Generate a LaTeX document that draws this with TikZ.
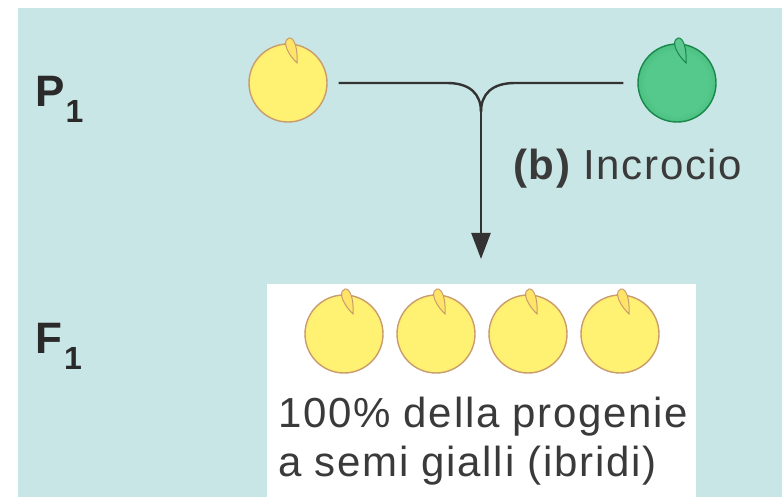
\documentclass[tikz,border=0pt]{standalone}
\usepackage{fontspec}
\setmainfont{Liberation Sans}
\usetikzlibrary{arrows.meta}

\definecolor{bgteal}{HTML}{C8E6E5}
\definecolor{inkgray}{HTML}{2A2A2A}
\definecolor{textgray}{HTML}{3A3A3A}
\definecolor{linegray}{HTML}{333333}
\definecolor{ycenter}{HTML}{FFF272}
\definecolor{ymid}{HTML}{F9DC6C}
\definecolor{yedge}{HTML}{E6B26A}
\definecolor{yborder}{HTML}{C99C6E}
\definecolor{ytip}{HTML}{FFE468}
\definecolor{gcenter}{HTML}{55C98B}
\definecolor{gedge}{HTML}{17924F}
\definecolor{gborder}{HTML}{17874A}
\definecolor{gtip}{HTML}{5CC890}

\pgfdeclareradialshading{yellowpea}{\pgfpoint{0bp}{0bp}}{%
  color(0bp)=(ycenter); color(22bp)=(ycenter); color(40bp)=(ymid); color(50bp)=(yedge)}
\pgfdeclareradialshading{greenpea}{\pgfpoint{0bp}{0bp}}{%
  color(0bp)=(gcenter); color(20bp)=(gcenter); color(50bp)=(gedge)}

\tikzset{
  pea/.style={circle, minimum size=78pt, inner sep=0pt, line width=1.4pt},
  yellowpeastyle/.style={pea, shading=yellowpea, draw=yborder},
  greenpeastyle/.style={pea, shading=greenpea, draw=gborder},
  gen/.style={anchor=base west, inner sep=0pt, text=inkgray,
    font=\fontsize{44}{44}\selectfont\bfseries},
  caption/.style={anchor=base west, inner sep=0pt, text=textgray,
    font=\fontsize{42}{42}\selectfont\addfontfeatures{LetterSpace=4}},
  conn/.style={draw=linegray, line width=2.4pt},
}

% small seed tip (hilum) on top of a pea, drawn around the pea centre
\newcommand{\seedtip}[3]{%
  \begin{scope}[shift={(#1.center)}]
    \draw[fill=#2, draw=#3, line width=1pt]
      (9,-20) .. controls (10,-35) and (6,-46) .. (1,-45)
              .. controls (-4,-44) and (-5,-34) .. cycle;
  \end{scope}}

\newcommand{\sub}[1]{\raisebox{-16pt}{\fontsize{32}{32}\selectfont\bfseries #1}}

\begin{document}
\begin{tikzpicture}[x=1pt, y=-1pt]
  \useasboundingbox (0,0) rectangle (782,497);
  \fill[white] (0,0) rectangle (782,497);
  \fill[bgteal] (18,8) rectangle (782,497);

  % box holding the F1 progeny
  \node[fill=white, anchor=north west, minimum width=429pt, minimum height=213pt,
        inner sep=0pt] (f1box) at (267,284) {};

  % generation labels
  \node[gen] (p1) at (35,107) {P\kern1pt\sub{1}};
  \node[gen] (f1) at (35,353) {F\kern2pt\sub{1}};

  % parental peas
  \node[yellowpeastyle] (pyel) at (288,83) {};
  \node[greenpeastyle] (pgrn) at (677,83) {};
  \seedtip{pyel}{ytip}{yborder}
  \seedtip{pgrn}{gtip}{gborder}

  % cross connector
  \coordinate (j) at (481,112);
  \coordinate (arrowend) at (481,259);
  \draw[conn] ([xshift=11pt]pyel.east) -- (447,83)
     .. controls (470,83) and (481,94) .. (j);
  \draw[conn] ([xshift=-14pt]pgrn.west) -- (515,83)
     .. controls (492,83) and (481,94) .. (j);
  \draw[conn, -{Triangle[width=19pt, length=26pt]}] (j) -- (arrowend);

  \node[caption] (cross) at (513,180) {{\bfseries (b)} Incrocio};

  % F1 progeny
  \foreach \i/\cx in {1/344, 2/436, 3/528, 4/620} {
    \node[yellowpeastyle] (f\i) at (\cx,334) {};
    \seedtip{f\i}{ytip}{yborder}
  }

  \node[caption] (t1) at (278,427) {100\% della progenie};
  \node[caption] (t2) at (278,476) {a semi gialli (ibridi)};
\end{tikzpicture}
\end{document}
